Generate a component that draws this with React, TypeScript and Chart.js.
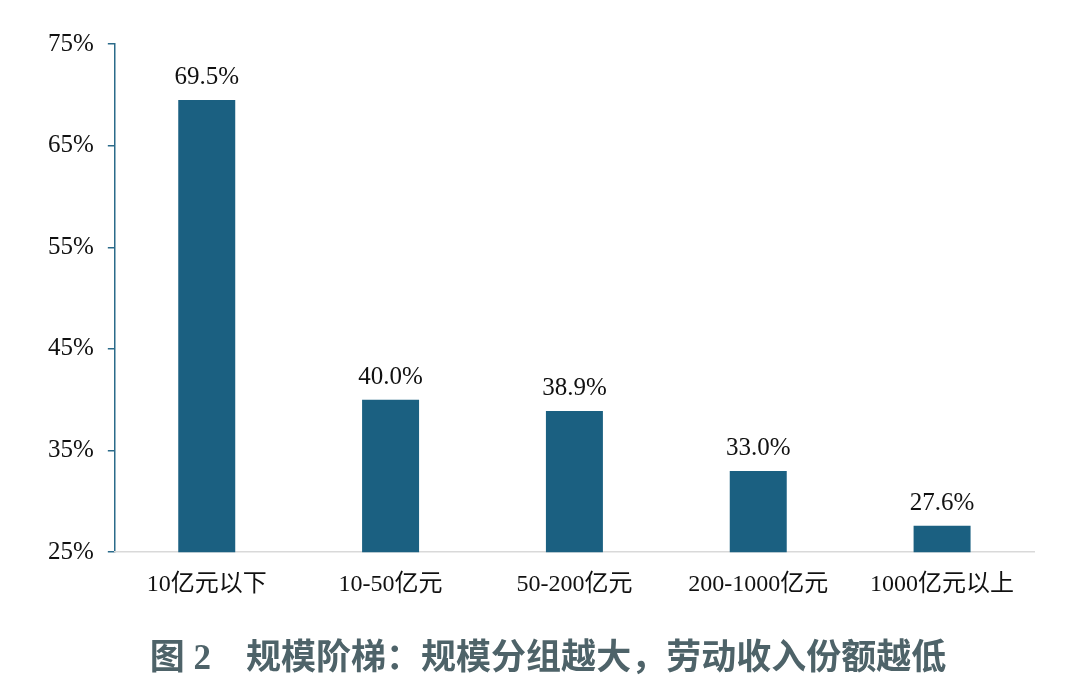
import { useEffect, useRef } from "react";
import { Chart, registerables } from "chart.js";

Chart.register(...registerables);

const categories = ["10亿元以下", "10-50亿元", "50-200亿元", "200-1000亿元", "1000亿元以上"];
const shares = [69.5, 40.0, 38.9, 33.0, 27.6];
const yTicks = [25, 35, 45, 55, 65, 75];
const caption = "图 2　规模阶梯：规模分组越大，劳动收入份额越低";

const BAR = "#1b6081";
const AXIS = "#2b6b8a";
const SERIF = '"Liberation Serif", "Times New Roman", "Noto Sans CJK SC", serif';

const valueLabels = {
  id: "valueLabels",
  afterDatasetsDraw(chart: Chart) {
    const ctx = chart.ctx;
    const meta = chart.getDatasetMeta(0);
    ctx.save();
    ctx.font = `25px ${SERIF}`;
    ctx.fillStyle = "#111";
    ctx.textAlign = "center";
    ctx.textBaseline = "bottom";
    meta.data.forEach((bar: any, i: number) => {
      ctx.fillText(shares[i].toFixed(1) + "%", bar.x, bar.y - 10);
    });
    ctx.restore();
  },
};

// caption under the chart, centred a bit right of the plot like the source figure
const captionPlugin = {
  id: "caption",
  afterDraw(chart: Chart) {
    const ctx = chart.ctx;
    ctx.save();
    ctx.font = `bold 35px ${SERIF}`;
    ctx.fillStyle = "#4e6369";
    ctx.textAlign = "center";
    ctx.textBaseline = "middle";
    ctx.fillText(caption, 548, 660);
    ctx.restore();
  },
};

function LaborShareChart() {
  const ref = useRef<HTMLCanvasElement>(null);
  useEffect(() => {
    const chart = new Chart(ref.current!, {
      type: "bar",
      data: {
        labels: categories,
        datasets: [{ data: shares, backgroundColor: BAR, categoryPercentage: 1, barPercentage: 0.31 }],
      },
      options: {
        animation: false,
        responsive: false,
        layout: { padding: { top: 44, left: 34, right: 46, bottom: 83 } },
        scales: {
          y: {
            min: 25,
            max: 75,
            afterBuildTicks: (axis: any) => {
              axis.ticks = yTicks.map((v) => ({ value: v }));
            },
            ticks: { callback: (v: any) => v + "%", color: "#111", font: { family: SERIF, size: 25 }, padding: 14 },
            grid: { drawOnChartArea: false, drawTicks: true, tickLength: 7, color: AXIS, lineWidth: 1.5 },
            border: { color: AXIS, width: 1.5 },
          },
          x: {
            ticks: { color: "#111", font: { family: SERIF, size: 24 }, padding: 10 },
            grid: { display: false },
            border: { color: "#d9d9d9", width: 1.5 },
          },
        },
        plugins: {
          legend: { display: false },
          tooltip: { enabled: false },
        },
      },
      plugins: [valueLabels, captionPlugin],
    });
    return () => chart.destroy();
  }, []);
  return <canvas ref={ref} width={1080} height={692} style={{ display: "block" }} />;
}

export default function App() {
  useEffect(() => {
    document.body.style.margin = "0";
    document.body.style.background = "#fff";
  }, []);
  return (
    <div style={{ width: 1080, height: 692, background: "#fff" }}>
      <LaborShareChart />
    </div>
  );
}
